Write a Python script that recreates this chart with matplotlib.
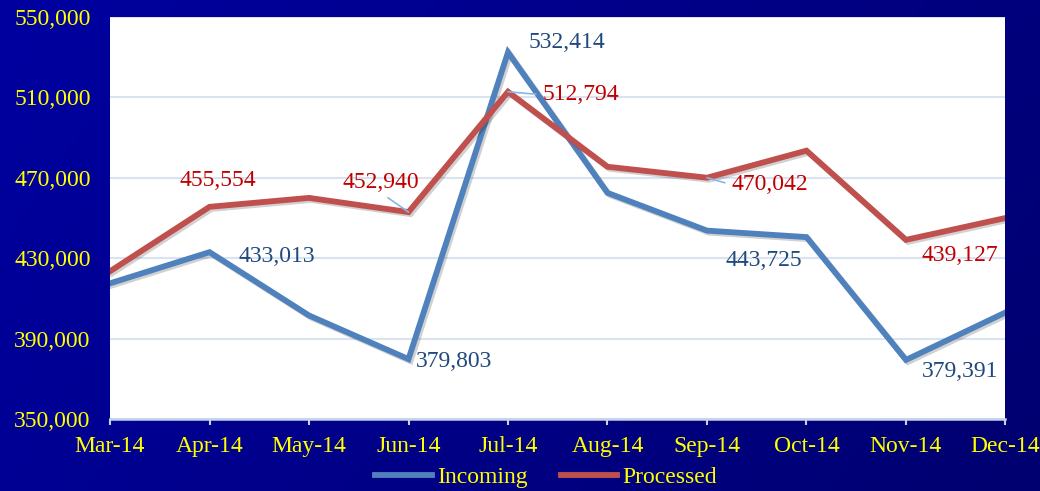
import matplotlib.pyplot as plt
import matplotlib.patheffects as pe
from matplotlib.colors import LinearSegmentedColormap
import numpy as np

months = ["Mar-14", "Apr-14", "May-14", "Jun-14", "Jul-14",
          "Aug-14", "Sep-14", "Oct-14", "Nov-14", "Dec-14"]
incoming = [417500, 433013, 401500, 379803, 532414,
            462500, 443725, 440500, 379391, 403000]
processed = [423500, 455554, 460000, 452940, 512794,
             475500, 470042, 483500, 439127, 450000]
y_ticks = [350000, 390000, 430000, 470000, 510000, 550000]

BLUE = "#4F81BD"
RED = "#C0504D"
BLUE_TXT = "#1F497D"
RED_TXT = "#C00000"
YELLOW = "#FFFF00"
GRID = "#D9E3F1"
LEADER = "#8DB4E2"

plt.rcParams["font.family"] = ["Liberation Serif", "DejaVu Serif"]

fig = plt.figure(figsize=(10.4, 4.91), dpi=100)

# dark blue gradient background
bg = fig.add_axes([0, 0, 1, 1], zorder=-10)
gx = np.linspace(0, 1, 256)
gy = np.linspace(0, 1, 64)
G = np.add.outer(0.25 * gy, 0.75 * gx)
cmap = LinearSegmentedColormap.from_list("bg", ["#0000A0", "#000070"])
bg.imshow(G, cmap=cmap, aspect="auto", extent=[0, 1, 0, 1], origin="upper")
bg.axis("off")

ax = fig.add_axes([0.1058, 0.1466, 0.861, 0.8188])
ax.set_facecolor("white")
x = np.arange(len(months))

shadow = [pe.SimpleLineShadow(offset=(1.5, -1.5), alpha=0.18, shadow_color="black"), pe.Normal()]
ax.plot(x, incoming, color=BLUE, lw=4.2, solid_joinstyle="miter", label="Incoming",
        path_effects=shadow, zorder=3)
ax.plot(x, processed, color=RED, lw=4.2, solid_joinstyle="miter", label="Processed",
        path_effects=shadow, zorder=3)

ax.set_xlim(0, len(months) - 1)
ax.set_ylim(350000, 550000)
ax.set_yticks(y_ticks)
ax.set_yticklabels([f"{v:,}" for v in y_ticks])
ax.set_xticks(x)
ax.set_xticklabels(months)
ax.grid(axis="y", color=GRID, lw=1.5, zorder=0)
ax.set_axisbelow(True)

for s in ["top", "right", "left"]:
    ax.spines[s].set_visible(False)
ax.spines["bottom"].set_color("#C5D3E8")
ax.spines["bottom"].set_linewidth(1.8)
ax.tick_params(axis="x", colors="#C5D3E8", length=4.5, width=1.5, pad=8,
               labelcolor=YELLOW, labelsize=17)
ax.tick_params(axis="y", length=0, pad=14, labelcolor=YELLOW, labelsize=17)

# data labels: (series, index, offset px dx, dy, color, leader relpos)
labels = [
    (processed, 1, 8, 26, RED_TXT, None),
    (incoming, 1, 67, -4, BLUE_TXT, None),
    (processed, 3, -28, 30, RED_TXT, (0.5, 0.0)),
    (incoming, 3, 46, -2, BLUE_TXT, None),
    (incoming, 4, 59, 10, BLUE_TXT, None),
    (processed, 4, 73, -3, RED_TXT, (0.0, 0.5)),
    (processed, 6, 63, -7, RED_TXT, (0.0, 0.5)),
    (incoming, 6, 57, -30, BLUE_TXT, None),
    (processed, 8, 54, -16, RED_TXT, None),
    (incoming, 8, 54, -12, BLUE_TXT, None),
]
for series, i, dx, dy, col, rel in labels:
    kw = {}
    if rel is not None:
        kw["arrowprops"] = dict(arrowstyle="-", color=LEADER, lw=1.2,
                                shrinkA=3, shrinkB=0, relpos=rel)
    ax.annotate(f"{series[i]:,}", (i, series[i]), xytext=(dx, dy),
                textcoords="offset pixels", ha="center", va="center",
                color=col, fontsize=17, zorder=5, **kw)

leg = fig.legend(loc="center", bbox_to_anchor=(0.525, 0.028), ncol=2,
                 frameon=False, fontsize=17, handlelength=2.4, handletextpad=0.2,
                 columnspacing=1.4, borderpad=0)
for t in leg.get_texts():
    t.set_color(YELLOW)
for h in leg.get_lines():
    h.set_linewidth(4.2)
    h.set_path_effects([])

fig.savefig("out.png", dpi=100)
